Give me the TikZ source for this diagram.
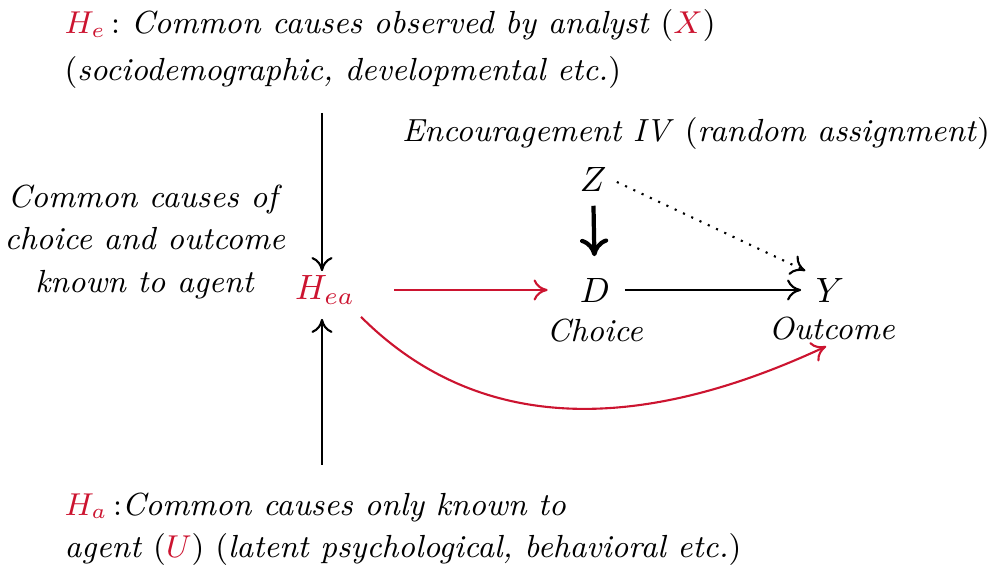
\documentclass[tikz,border=0pt]{standalone}
\usepackage{amsmath,amssymb}
\usepackage{xcolor}
\usepackage{tikz}
\usetikzlibrary{arrows.meta, positioning, calc}
\definecolor{agentred}{RGB}{204, 20, 48}

\tikzset{
    causearrow/.style={->, semithick, black},
    agentarrow/.style={->, semithick, agentred},
    varnode/.style={inner sep=1pt, font=\fontsize{9.6}{12}\selectfont},
    notetext/.style={inner sep=0pt, font=\fontsize{9.1}{13.4}\selectfont}
}

\begin{document}
\begin{tikzpicture}[>={To[length=4pt, width=6pt]}]
    \useasboundingbox (0,0) rectangle (9.87,5.69);

    % Analyst-observed causes
    \node[notetext, anchor=north west, align=left] (heNote) at (0.64,5.60)
        {{\color{agentred}$H_e$}$\,:$ \textit{Common causes observed by analyst} ({\color{agentred}$X$})\\
         (\textit{sociodemographic, developmental etc.})};

    % Agent-only causes
    \node[notetext, anchor=north west, align=left, font=\fontsize{9.1}{12}\selectfont] (haNote) at (0.64,0.77)
        {{\color{agentred}$H_a$}$\,:$\textit{Common causes only known to}\\
         \textit{agent} ({\color{agentred}$U$}) (\textit{latent psychological, behavioral etc.})};

    % Confounder known to agent
    \node[notetext, align=center, font=\fontsize{9.1}{12.2}\selectfont] (agentNote) at (1.45,3.27)
        {\textit{Common causes of}\\ \textit{choice and outcome}\\ \textit{known to agent}};
    \node[varnode, agentred] (hea) at (3.25,2.79) {$H_{ea}$};

    % Instrument, choice and outcome
    \node[notetext] (ivNote) at (6.96,4.35) {\textit{Encouragement IV} (\textit{random assignment})};
    \node[varnode] (z) at (5.93,3.90) {$Z$};
    \node[varnode] (d) at (5.95,2.79) {$D$};
    \node[varnode] (y) at (8.30,2.79) {$Y$};
    \node[notetext] (choice) at (5.95,2.38) {\textit{Choice}};
    \node[notetext] (outcome) at (8.32,2.40) {\textit{Outcome}};

    % Free ends of the vertical arrows
    \coordinate (heFoot) at (3.22,4.56);
    \coordinate (haHead) at (3.22,1.04);

    % Arrows
    \draw[causearrow] (heFoot) -- (hea.north -| heFoot);
    \draw[causearrow] (haHead) -- ($(hea.south -| haHead)+(0,-0.1)$);
    \draw[agentarrow, shorten <=10pt, shorten >=8pt] (hea) -- (d);
    \draw[causearrow, shorten <=3pt, shorten >=3pt] (d) -- (y);
    \draw[->, very thick, >={To[length=5pt, width=8pt]}, shorten <=3pt, shorten >=5pt] (z) -- (d);
    \draw[causearrow, dotted, shorten <=2pt, shorten >=2pt] (z.east) -- (y.north west);
    \draw[agentarrow] ($(hea.south east)+(0.02,-0.08)$) to[out=-45, in=205] ($(outcome.south west)+(0.58,-0.05)$);
\end{tikzpicture}
\end{document}
